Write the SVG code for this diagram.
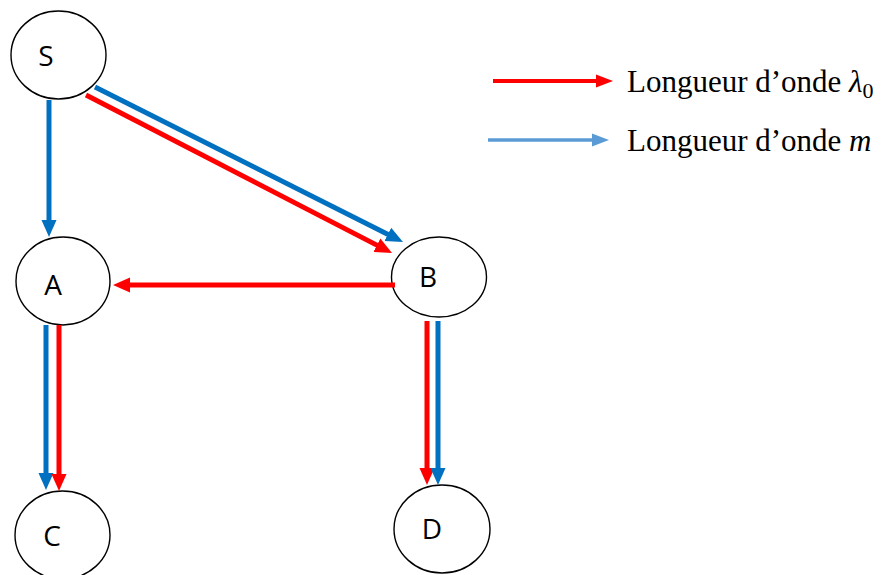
<svg xmlns="http://www.w3.org/2000/svg" width="893" height="575" viewBox="0 0 893 575">
<style>
.node{fill:#fff;stroke:#000;stroke-width:1.4}
.lbl{font-family:"Open Sans","Liberation Sans",sans-serif;font-size:28px;fill:#000;text-anchor:middle}
.red{stroke:#FF0000;stroke-width:5;fill:none}
.blue{stroke:#0070C0;stroke-width:5;fill:none}
.lgr{stroke:#FF0000;stroke-width:4;fill:none}
.lgb{stroke:#5B9BD5;stroke-width:3.5;fill:none}
.leg{font-family:"Liberation Serif","Times New Roman",serif;font-size:31px;fill:#000}
</style>
<defs>
<marker id="hr" markerUnits="userSpaceOnUse" markerWidth="17" markerHeight="16" refX="2" refY="8" orient="auto"><path d="M0,0.5 L17,8 L0,15.5 z" fill="#FF0000"/></marker>
<marker id="hb" markerUnits="userSpaceOnUse" markerWidth="17" markerHeight="16" refX="2" refY="8" orient="auto"><path d="M0,0.5 L17,8 L0,15.5 z" fill="#0070C0"/></marker>
<marker id="lhr" markerUnits="userSpaceOnUse" markerWidth="17" markerHeight="14" refX="2" refY="7" orient="auto"><path d="M0,0.5 L17,7 L0,13.5 z" fill="#FF0000"/></marker>
<marker id="lhb" markerUnits="userSpaceOnUse" markerWidth="17" markerHeight="14" refX="2" refY="7" orient="auto"><path d="M0,0.5 L17,7 L0,13.5 z" fill="#5B9BD5"/></marker>
</defs>
<g id="node-S"><ellipse class="node" cx="58.5" cy="55" rx="47.5" ry="44"/><text class="lbl" x="46" y="66">S</text></g>
<g id="node-A"><ellipse class="node" cx="63" cy="281" rx="47" ry="44"/><text class="lbl" x="53" y="295">A</text></g>
<g id="node-B"><ellipse class="node" cx="439" cy="277" rx="47.5" ry="40"/><text class="lbl" x="428" y="287">B</text></g>
<g id="node-C"><ellipse class="node" cx="62.5" cy="535" rx="47.5" ry="44"/><text class="lbl" x="52" y="546">C</text></g>
<g id="node-D"><ellipse class="node" cx="442" cy="529" rx="48" ry="44"/><text class="lbl" x="432" y="539">D</text></g>
<g id="connectors">
<line class="blue" x1="49" y1="100" x2="49" y2="222" marker-end="url(#hb)"/>
<line class="blue" x1="95" y1="87" x2="389.6" y2="235.3" marker-end="url(#hb)"/>
<line class="red" x1="86" y1="95" x2="378.7" y2="246.1" marker-end="url(#hr)"/>
<line class="red" x1="395" y1="285" x2="128" y2="285" marker-end="url(#hr)"/>
<line class="blue" x1="46" y1="325" x2="46" y2="475" marker-end="url(#hb)"/>
<line class="red" x1="59" y1="325" x2="59" y2="476" marker-end="url(#hr)"/>
<line class="red" x1="427" y1="321" x2="427" y2="470" marker-end="url(#hr)"/>
<line class="blue" x1="438" y1="321" x2="438" y2="470" marker-end="url(#hb)"/>
</g>
<g id="legend">
<line class="lgr" x1="493" y1="81" x2="598" y2="81" marker-end="url(#lhr)"/>
<line class="lgb" x1="488" y1="140" x2="594" y2="140" marker-end="url(#lhb)"/>
<text class="leg" x="627" y="92">Longueur d’onde <tspan font-style="italic">λ</tspan><tspan font-size="22" dy="6">0</tspan></text>
<text class="leg" x="627" y="151">Longueur d’onde <tspan font-style="italic">m</tspan></text>
</g>
</svg>
